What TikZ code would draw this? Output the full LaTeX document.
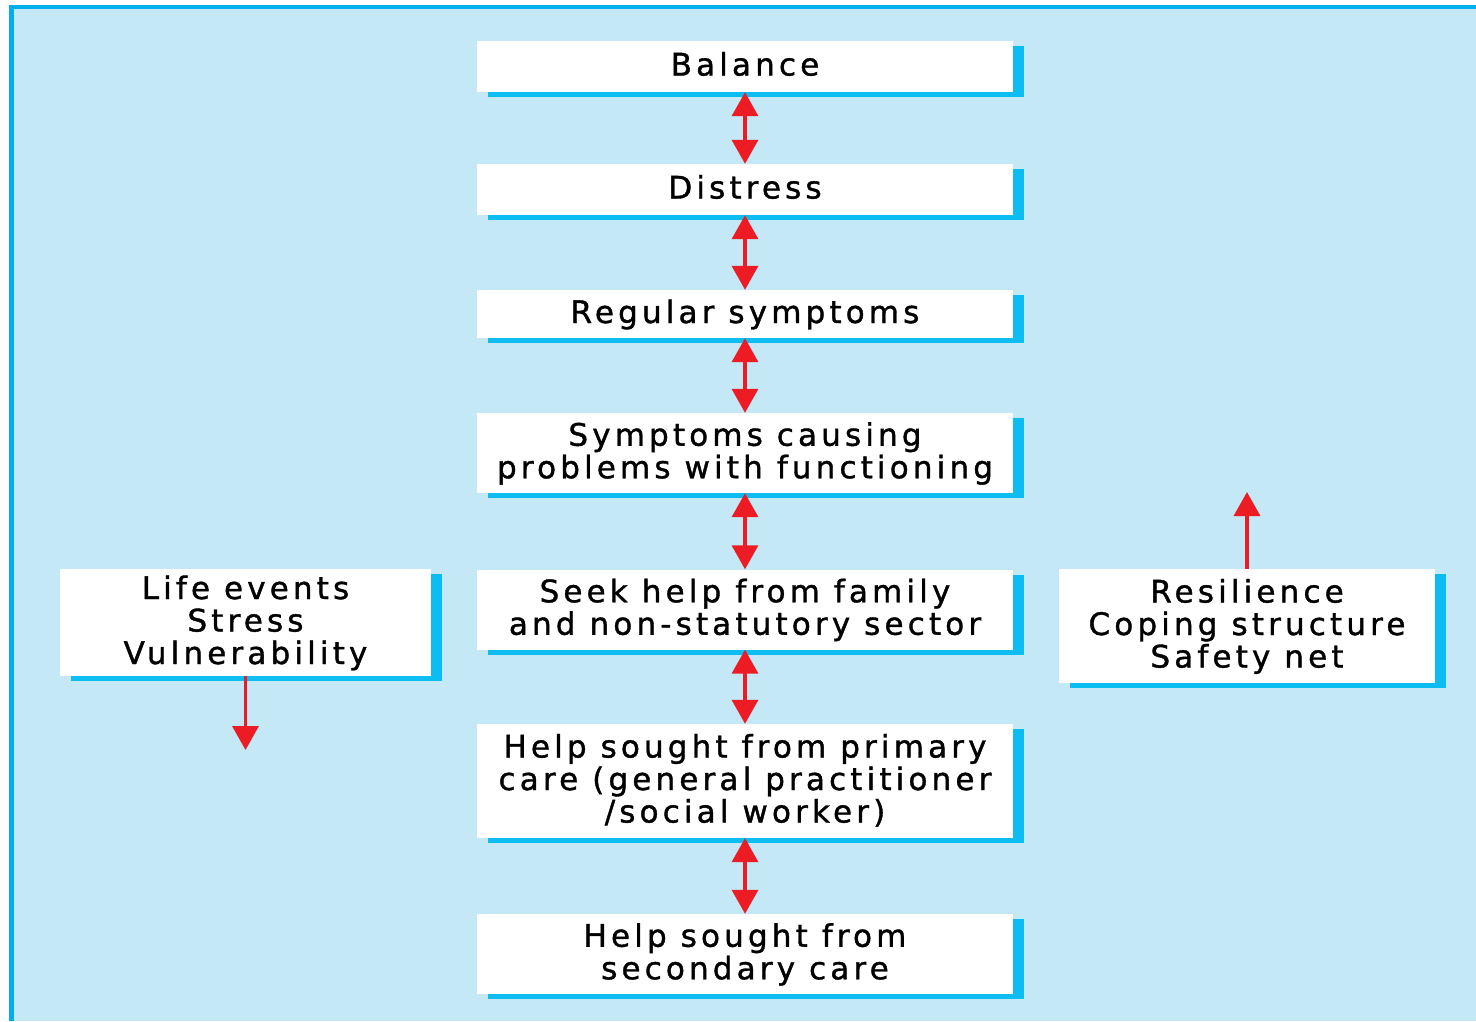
\documentclass[tikz,border=0pt]{standalone}
\usepackage{fontspec}
\newfontfamily\boxfont[LetterSpace=13.4,FakeBold=1.2]{DejaVu Sans}
\usetikzlibrary{arrows.meta,shadows}
\definecolor{bgblue}{HTML}{C5E8F7}
\definecolor{edgeblue}{HTML}{00AEEF}
\definecolor{shadeblue}{HTML}{0DBDF1}
\definecolor{arrred}{HTML}{ED1C24}
\newcommand{\ms}{\rule[-7.25pt]{0pt}{32.5pt}}
\begin{document}
\begin{tikzpicture}[x=1pt,y=-1pt,
  box/.style={fill=white, inner sep=0pt, align=center,
    font={\boxfont\fontsize{31}{32.5}\selectfont},
    general shadow={fill=shadeblue, shadow xshift=11pt, shadow yshift=-5pt}},
  cbox/.style={box, minimum width=536pt},
  link/.style={draw=arrred, line width=3.5pt,
    {Triangle[width=26pt,length=24pt]}-{Triangle[width=26pt,length=24pt]}},
  oneway/.style={draw=arrred, line width=3.5pt, -{Triangle[width=26pt,length=24pt]}}]
\useasboundingbox (0,0) rectangle (1476,1021);
\fill[white] (0,0) rectangle (1476,1021);
\fill[edgeblue] (9,5) rectangle (1476,1021);
\fill[bgblue] (14,9) rectangle (1476,1021);

\node[cbox, minimum height=51pt] (b1) at (745,66.5) {\ms Balance};
\node[cbox, minimum height=51pt] (b2) at (745,189.5) {\ms Distress};
\node[cbox, minimum height=48pt] (b3) at (745,314) {\ms Regular symptoms};
\node[cbox, minimum height=80pt] (b4) at (745,453) {\ms Symptoms causing\\\ms problems with functioning};
\node[cbox, minimum height=80pt] (b5) at (745,609.5) {\ms Seek help from family\\\ms and non-statutory sector};
\node[cbox, minimum height=114pt] (b6) at (745,781) {\ms Help sought from primary\\\ms care (general practitioner\\\ms /social worker)};
\node[cbox, minimum height=80pt] (b7) at (745,954) {\ms Help sought from\\\ms secondary care};
\node[box, minimum width=371pt, minimum height=107pt] (L) at (245.5,622.5) {\ms Life events\\\ms Stress\\\ms Vulnerability};
\node[box, minimum width=376pt, minimum height=114pt] (R) at (1247,626) {\ms Resilience\\\ms Coping structure\\\ms Safety net};

\coordinate (Lend) at (245.5,750);
\coordinate (Rend) at (1247,492);

\draw[link] (b1.south) -- (b2.north);
\draw[link] (b2.south) -- (b3.north);
\draw[link] (b3.south) -- (b4.north);
\draw[link] (b4.south) -- (b5.north);
\draw[link] (b5.south) -- (b6.north);
\draw[link] (b6.south) -- (b7.north);
\draw[oneway] (L.south) -- (Lend);
\draw[oneway] (R.north) -- (Rend);
\end{tikzpicture}
\end{document}
